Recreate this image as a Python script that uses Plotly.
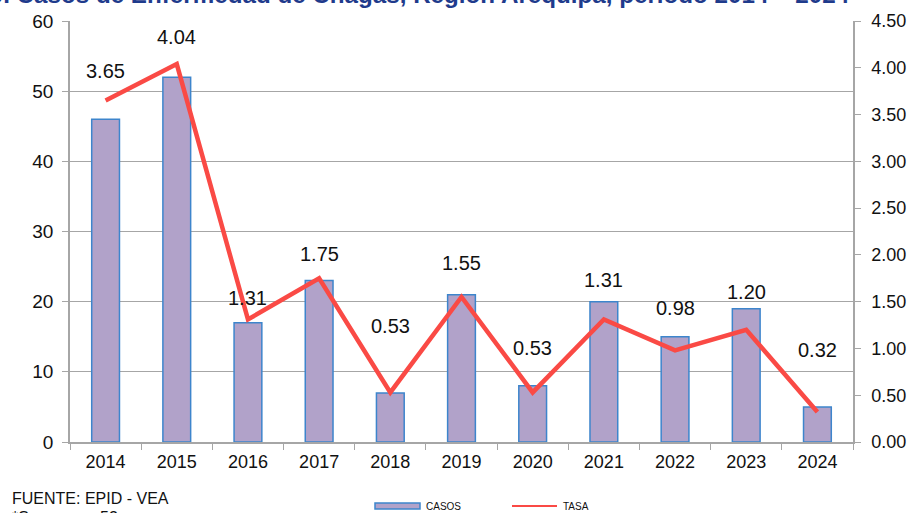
import plotly.graph_objects as go

# Chagas cases and incidence rate, Arequipa region
years = ["2014", "2015", "2016", "2017", "2018", "2019", "2020", "2021", "2022", "2023", "2024"]
casos = [46, 52, 17, 23, 7, 21, 8, 20, 15, 19, 5]
tasa = [3.65, 4.04, 1.31, 1.75, 0.53, 1.55, 0.53, 1.31, 0.98, 1.20, 0.32]

# vertical offset (px) of each rate label above its point
label_shift = [30, 27, 21, 24, 66, 34, 44, 39, 42, 38, 62]

FONT = "Liberation Sans, Arial, sans-serif"
GRID = "#a6a6a6"
BAR_FILL = "#b1a2c9"
BAR_EDGE = "#3d85cc"
LINE_RED = "#fa4a45"

W, H = 912, 513
ML, MR, MT, MB = 70, 59, 21, 71
pw, ph = W - ML - MR, H - MT - MB


def px(x, y):
    """Page pixel position (from top-left) to paper coordinates."""
    return (x - ML) / pw, (H - MB - y) / ph


fig = go.Figure()

fig.add_trace(go.Bar(
    x=years, y=casos, name="CASOS",
    marker=dict(color=BAR_FILL, line=dict(color=BAR_EDGE, width=1.5)),
    width=0.39, yaxis="y",
))

fig.add_trace(go.Scatter(
    x=years, y=tasa, name="TASA", mode="lines",
    line=dict(color=LINE_RED, width=4.5),
    yaxis="y2",
))

# rate labels; category index used as x position
for i, (v, dy) in enumerate(zip(tasa, label_shift)):
    fig.add_annotation(
        x=i, y=v, xref="x", yref="y2", text=f"{v:.2f}",
        showarrow=False, yshift=dy,
        font=dict(family=FONT, size=20, color="#111111"),
    )


def page_text(x, y, text, size, color="#111111", xanchor="left", bold=False):
    ax, ay = px(x, y)
    fig.add_annotation(
        x=ax, y=ay, xref="paper", yref="paper",
        text=f"<b>{text}</b>" if bold else text,
        showarrow=False, xanchor=xanchor, yanchor="middle",
        font=dict(family=FONT, size=size, color=color),
    )


# title, partly above the top edge of the page
page_text(852, -5.5,
          "Gráfico N° 10. Casos de Enfermedad de Chagas, Región Arequipa, periodo 2014 – 2024",
          24.2, color="#1f3b8c", xanchor="right", bold=True)

# source notes
page_text(10, 498, "FUENTE: EPID - VEA", 16)
page_text(10, 517, "*Semana ... 52", 16)

# legend, drawn by hand below the axis
x0, y0 = px(375, 503)
x1, y1 = px(420, 509)
fig.add_shape(type="rect", xref="paper", yref="paper", x0=x0, y0=y0, x1=x1, y1=y1,
              fillcolor=BAR_FILL, line=dict(color=BAR_EDGE, width=1.5))
page_text(424, 506, "CASOS", 10)
x0, y0 = px(512, 506)
x1, _ = px(557, 506)
fig.add_shape(type="line", xref="paper", yref="paper", x0=x0, y0=y0, x1=x1, y1=y0,
              line=dict(color=LINE_RED, width=2))
page_text(561, 506, "TASA", 10)

fig.update_layout(
    width=W, height=H,
    margin=dict(l=ML, r=MR, t=MT, b=MB, autoexpand=False),
    paper_bgcolor="white", plot_bgcolor="white",
    font=dict(family=FONT, size=18, color="#111111"),
    showlegend=False,
    xaxis=dict(
        type="category", range=[-0.5, len(years) - 0.5], showgrid=False,
        showline=True, linecolor=GRID, linewidth=1.5,
        ticks="outside", tickson="boundaries", ticklen=6, tickcolor=GRID,
        tickfont=dict(family=FONT, size=18), ticklabelstandoff=3,
    ),
    yaxis=dict(
        range=[0, 60], dtick=10,
        showgrid=True, gridcolor=GRID, gridwidth=1.2,
        showline=True, linecolor=GRID, linewidth=1.5,
        ticks="outside", ticklen=6, tickcolor=GRID,
        tickfont=dict(family=FONT, size=19), zeroline=False,
        ticklabelstandoff=5,
    ),
    yaxis2=dict(
        range=[0, 4.5], dtick=0.5, tickformat=".2f",
        overlaying="y", side="right", showgrid=False,
        showline=True, linecolor=GRID, linewidth=1.5,
        ticks="outside", ticklen=6, tickcolor=GRID,
        tickfont=dict(family=FONT, size=18), zeroline=False,
        ticklabelstandoff=7,
    ),
)

fig.write_html("out.html")
